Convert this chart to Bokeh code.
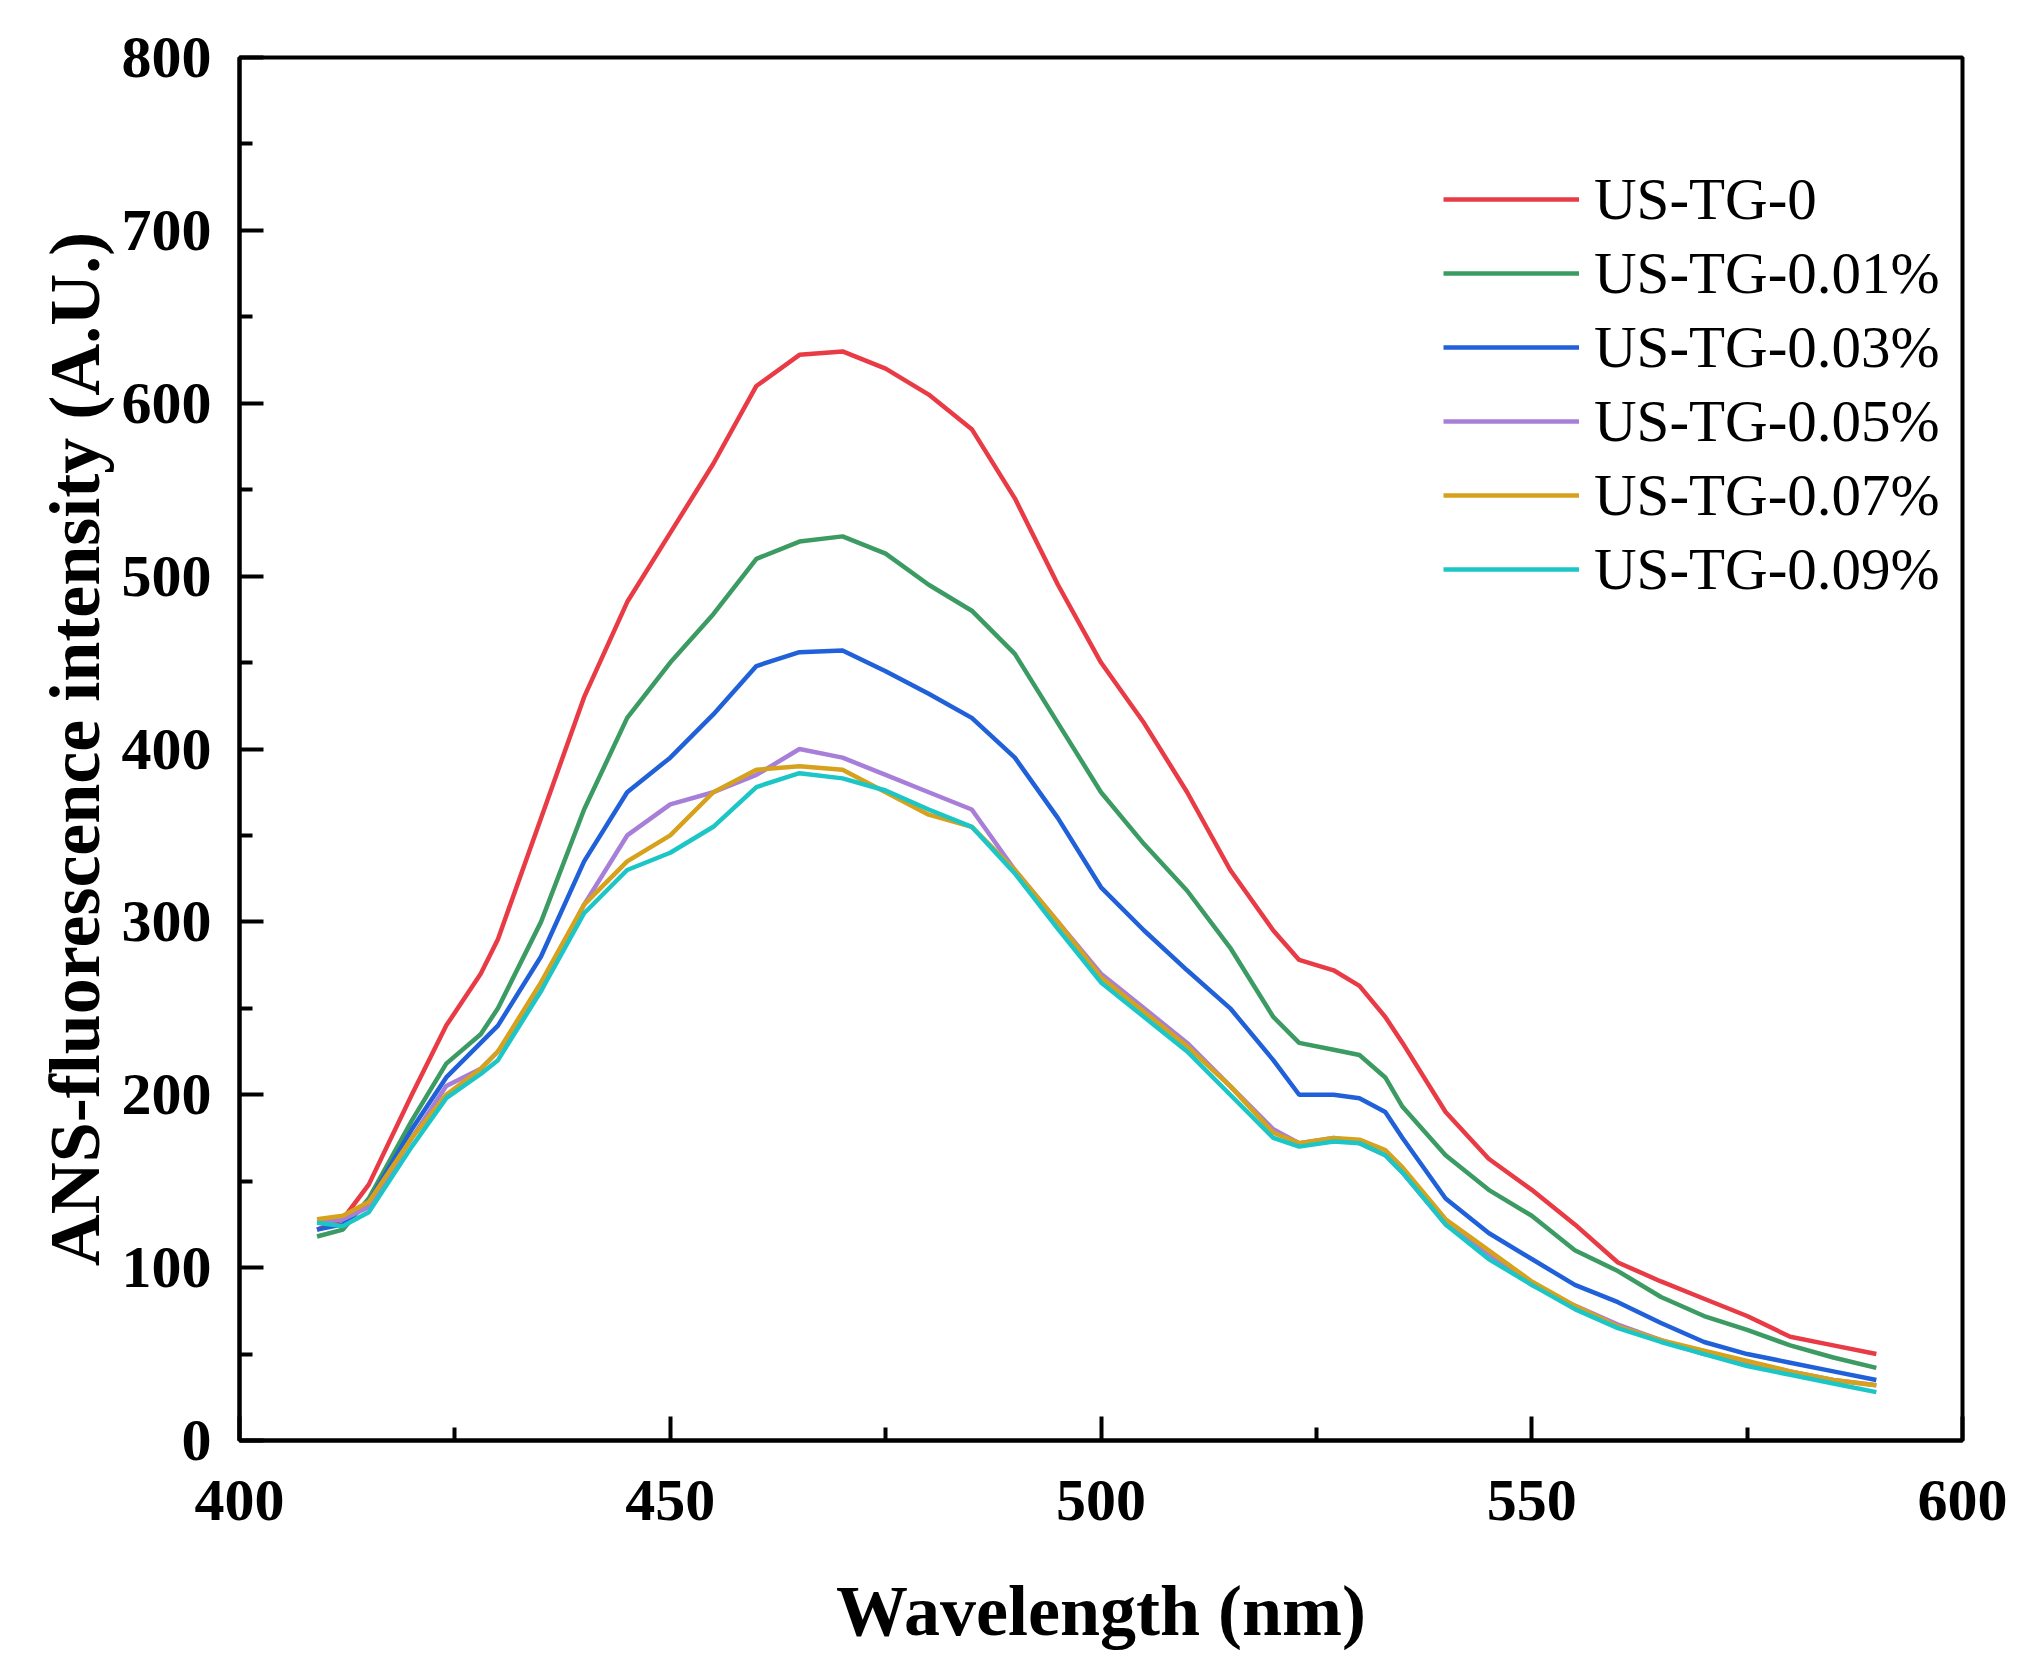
from bokeh.plotting import figure
from bokeh.models import Range1d, FixedTicker, Legend, LegendItem
from bokeh.embed import file_html
from bokeh.resources import INLINE

wavelength = [409, 412, 415, 420, 424, 428, 430, 435, 440, 445, 450, 455, 460, 465, 470,
              475, 480, 485, 490, 495, 500, 505, 510, 515, 520, 523, 527, 530, 533, 535,
              540, 545, 550, 555, 560, 565, 570, 575, 580, 585, 590]

us_tg_0 = [122, 128, 148, 200, 240, 270, 290, 360, 430, 485, 525, 565, 610, 628, 630,
           620, 605, 585, 545, 495, 450, 415, 375, 330, 295, 278, 272, 263, 245, 230,
           190, 163, 145, 125, 103, 92, 82, 72, 60, 55, 50]
us_tg_001 = [118, 122, 140, 185, 218, 235, 250, 300, 365, 418, 450, 478, 510, 520, 523,
             513, 495, 480, 455, 415, 375, 345, 318, 285, 245, 230, 226, 223, 210, 193,
             165, 145, 130, 110, 98, 83, 72, 64, 55, 48, 42]
us_tg_003 = [122, 125, 138, 180, 210, 230, 240, 280, 335, 375, 395, 420, 448, 456, 457,
             445, 432, 418, 395, 360, 320, 295, 272, 250, 220, 200, 200, 198, 190, 175,
             140, 120, 105, 90, 80, 68, 57, 50, 45, 40, 35]
us_tg_005 = [126, 128, 135, 175, 205, 215, 225, 260, 310, 350, 368, 375, 385, 400, 395,
             385, 375, 365, 330, 300, 270, 250, 230, 205, 180, 172, 175, 172, 165, 155,
             125, 108, 90, 78, 67, 58, 50, 45, 40, 35, 32]
us_tg_007 = [128, 130, 138, 175, 200, 215, 225, 265, 310, 335, 350, 375, 388, 390, 388,
             375, 362, 355, 330, 300, 268, 248, 228, 205, 178, 172, 175, 174, 168, 158,
             128, 110, 92, 78, 66, 58, 52, 46, 40, 35, 32]
us_tg_009 = [126, 124, 132, 170, 198, 212, 220, 260, 305, 330, 340, 355, 378, 386, 383,
             376, 365, 355, 328, 296, 265, 245, 225, 200, 175, 170, 173, 172, 165, 155,
             125, 105, 90, 76, 65, 57, 50, 43, 38, 33, 28]

series_names = ["US-TG-0", "US-TG-0.01%", "US-TG-0.03%", "US-TG-0.05%", "US-TG-0.07%", "US-TG-0.09%"]
series_values = [us_tg_0, us_tg_001, us_tg_003, us_tg_005, us_tg_007, us_tg_009]
series_colors = ["#E83B45", "#3B9B62", "#2060D8", "#A77FD8", "#D6A11C", "#1CC6C6"]

x_major = [400, 450, 500, 550, 600]
x_minor = [425, 475, 525, 575]
y_major = [0, 100, 200, 300, 400, 500, 600, 700, 800]
y_minor = [50, 150, 250, 350, 450, 550, 650, 750]

FONT = "Liberation Serif"

p = figure(frame_width=1723, frame_height=1383,
           min_border_left=239, min_border_top=57, min_border_right=52, min_border_bottom=202,
           x_range=Range1d(400, 600), y_range=Range1d(0, 800),
           output_backend="svg", toolbar_location=None)

p.background_fill_color = "white"
p.border_fill_color = "white"
p.grid.visible = False
p.outline_line_color = "black"
p.outline_line_width = 4

items = []
for name, vals, col in zip(series_names, series_values, series_colors):
    r = p.line(wavelength, vals, line_color=col, line_width=4.5)
    items.append(LegendItem(label=name, renderers=[r]))

p.xaxis.ticker = FixedTicker(ticks=x_major, minor_ticks=x_minor)
p.yaxis.ticker = FixedTicker(ticks=y_major, minor_ticks=y_minor)

for ax in (p.xaxis[0], p.yaxis[0]):
    ax.axis_line_width = 4
    ax.axis_line_color = "black"
    ax.major_tick_line_width = 4
    ax.minor_tick_line_width = 4
    ax.major_tick_in = 24
    ax.major_tick_out = 0
    ax.minor_tick_in = 13
    ax.minor_tick_out = 0
    ax.major_label_text_font = FONT
    ax.major_label_text_font_style = "bold"
    ax.major_label_text_font_size = "60px"
    ax.major_label_text_color = "black"
    ax.axis_label_text_font = FONT
    ax.axis_label_text_font_style = "bold"
    ax.axis_label_text_font_size = "72px"
    ax.axis_label_text_color = "black"

p.xaxis.axis_label = "Wavelength (nm)"
p.yaxis.axis_label = "ANS-fluorescence intensity (A.U.)"
p.xaxis.major_label_standoff = 40
p.xaxis.axis_label_standoff = 48
p.yaxis.major_label_standoff = 28
p.yaxis.axis_label_standoff = 4

legend = Legend(items=items, location=(1204, 834))
legend.border_line_color = None
legend.background_fill_alpha = 0
legend.padding = 0
legend.margin = 0
legend.spacing = 0
legend.glyph_width = 136
legend.glyph_height = 74
legend.label_height = 74
legend.label_standoff = 15
legend.label_text_font = FONT
legend.label_text_font_size = "59px"
legend.label_text_color = "black"
p.add_layout(legend)

open("out.html", "w").write(file_html(p, INLINE))
